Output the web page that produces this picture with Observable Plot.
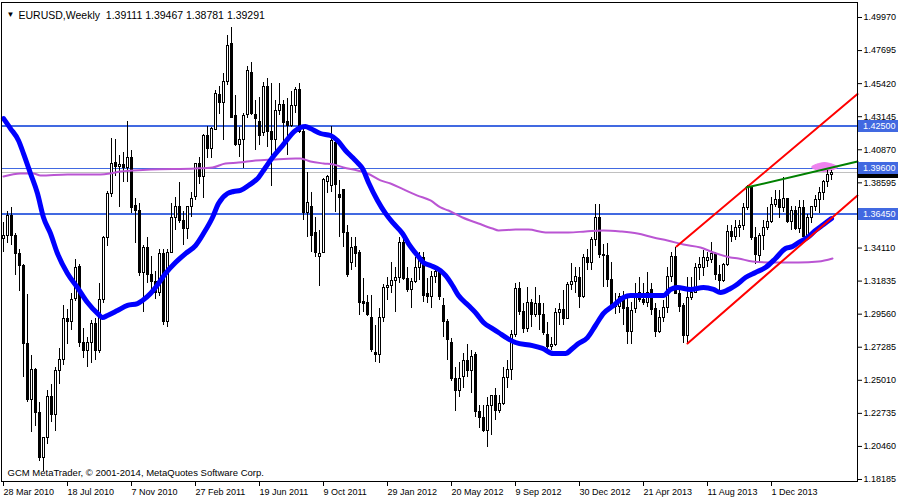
<!DOCTYPE html>
<html><head><meta charset="utf-8">
<script src="https://cdn.jsdelivr.net/npm/d3@7"></script>
<script src="https://cdn.jsdelivr.net/npm/@observablehq/plot@0.6"></script>
<style>
html,body{margin:0;padding:0;background:#fff;}
#chart svg{display:block;}
</style></head><body><div id="chart"></div>
<script>
// Weekly EURUSD candles, bar 0 = week of 28 Mar 2010
const open = [
1.3476,1.3497,1.3630,1.3497,1.3373,1.3285,1.2754,1.2362,1.2575,1.2275,
1.1963,1.2105,1.2383,1.2265,1.2565,1.2640,1.2926,1.2900,1.3060,1.3280,
1.2760,1.2705,1.2760,1.2890,1.2700,1.3050,1.3480,1.3786,1.3993,1.3968,
1.3985,1.3965,1.4030,1.3700,1.3665,1.3240,1.3408,1.3225,1.3180,1.3100,
1.3370,1.2905,1.3380,1.3621,1.3690,1.3600,1.3540,1.3690,1.3759,1.3986,
1.3900,1.4180,1.4090,1.4226,1.4467,1.4412,1.4550,1.4818,1.4320,1.4120,
1.4151,1.4323,1.4612,1.4323,1.4275,1.4200,1.4522,1.4206,1.4151,1.4357,
1.4392,1.4280,1.4250,1.4390,1.4500,1.4210,1.3650,1.3690,1.3511,1.3346,
1.3380,1.3862,1.3841,1.4137,1.3779,1.3807,1.3511,1.3311,1.3421,1.3380,
1.3043,1.3036,1.2933,1.2692,1.2678,1.2933,1.3135,1.3153,1.3181,1.3208,
1.3449,1.3201,1.3119,1.3174,1.3277,1.3345,1.3098,1.3071,1.3215,1.3243,
1.3015,1.2899,1.2761,1.2507,1.2424,1.2525,1.2637,1.2562,1.2678,1.2280,
1.2245,1.2149,1.2321,1.2390,1.2290,1.2335,1.2514,1.2575,1.2816,1.3126,
1.2968,1.2857,1.3036,1.2947,1.3029,1.2947,1.2816,1.2727,1.2745,1.2967,
1.2988,1.2926,1.3160,1.3174,1.3208,1.3071,1.3339,1.3310,1.3463,1.3621,
1.3366,1.3353,1.3188,1.3022,1.3005,1.3077,1.2995,1.2830,1.2990,1.3105,
1.3050,1.3036,1.3119,1.2990,1.2830,1.2930,1.2995,1.3215,1.3346,1.3098,
1.3015,1.2809,1.3070,1.3105,1.3277,1.3277,1.3325,1.3332,1.3373,1.3222,
1.3181,1.3291,1.3518,1.3490,1.3552,1.3560,1.3683,1.3821,1.3483,1.3353,
1.3497,1.3552,1.3587,1.3704,1.3738,1.3683,1.3745,1.3590,1.3669,1.3545,
1.3683,1.3490,1.3620,1.3690,1.3740,1.3793,1.3862,1.39111];
const high = [
1.3587,1.3660,1.3690,1.3510,1.3400,1.3300,1.3090,1.2670,1.2580,1.2348,
1.2110,1.2430,1.2470,1.2590,1.2720,1.3015,1.2990,1.3098,1.3333,1.3300,
1.2860,1.2795,1.2912,1.2926,1.3167,1.3490,1.3800,1.4164,1.4155,1.4050,
1.4068,1.4282,1.4082,1.3750,1.3717,1.3430,1.3480,1.3350,1.3250,1.3400,
1.3400,1.3400,1.3720,1.3760,1.3862,1.3660,1.3700,1.3793,1.3993,1.4034,
1.4190,1.4250,1.4240,1.4495,1.4520,1.4612,1.4873,1.4928,1.4460,1.4240,
1.4336,1.4660,1.4687,1.4426,1.4447,1.4550,1.4577,1.4543,1.4426,1.4543,
1.4426,1.4440,1.4490,1.4515,1.4543,1.4240,1.3931,1.3793,1.3621,1.3532,
1.3890,1.3910,1.4247,1.4151,1.3876,1.3810,1.3566,1.3483,1.3483,1.3394,
1.3201,1.3084,1.3084,1.2878,1.2995,1.3160,1.3208,1.3311,1.3277,1.3483,
1.3483,1.3277,1.3201,1.3346,1.3380,1.3380,1.3201,1.3250,1.3291,1.3260,
1.3064,1.2920,1.2790,1.2589,1.2623,1.2685,1.2747,1.2706,1.2690,1.2328,
1.2328,1.2383,1.2397,1.2445,1.2397,1.2589,1.2637,1.2844,1.3167,1.3174,
1.3029,1.3140,1.3060,1.3140,1.3084,1.3029,1.2899,1.2795,1.2995,1.3029,
1.3119,1.3174,1.3305,1.3277,1.3277,1.3366,1.3404,1.3480,1.3710,1.3710,
1.3435,1.3442,1.3311,1.3098,1.3098,1.3110,1.3064,1.3036,1.3167,1.3208,
1.3167,1.3243,1.3167,1.3029,1.2981,1.3050,1.3277,1.3380,1.3416,1.3119,
1.3029,1.3208,1.3208,1.3305,1.3346,1.3394,1.3380,1.3449,1.3380,1.3291,
1.3305,1.3566,1.3566,1.3600,1.3600,1.3717,1.3841,1.3828,1.3552,1.3511,
1.3600,1.3690,1.3759,1.3807,1.3807,1.3893,1.3752,1.3700,1.3700,1.3740,
1.3740,1.3640,1.3700,1.3770,1.3828,1.3876,1.3944,1.39467];
const low = [
1.3380,1.3440,1.3428,1.3220,1.3115,1.2523,1.2350,1.2143,1.2180,1.1940,
1.1876,1.2060,1.2210,1.2150,1.2470,1.2603,1.2750,1.2844,1.3040,1.2730,
1.2650,1.2587,1.2617,1.2637,1.2685,1.3030,1.3420,1.3759,1.3900,1.3690,
1.3862,1.3860,1.3650,1.3440,1.3218,1.2967,1.3170,1.3120,1.3060,1.3080,
1.2880,1.2861,1.3370,1.3530,1.3580,1.3428,1.3470,1.3621,1.3738,1.3850,
1.3750,1.4030,1.4030,1.4220,1.4330,1.4151,1.4530,1.4300,1.4110,1.4034,
1.3958,1.4300,1.4320,1.4082,1.4116,1.4180,1.4103,1.3837,1.4061,1.4323,
1.4103,1.4050,1.4240,1.4336,1.4199,1.3600,1.3483,1.3380,1.3346,1.3146,
1.3370,1.3786,1.3793,1.3655,1.3483,1.3415,1.3208,1.3256,1.3277,1.2947,
1.2967,1.2940,1.2692,1.2624,1.2617,1.2900,1.3050,1.3098,1.2967,1.3167,
1.3188,1.3105,1.2998,1.3167,1.3188,1.3036,1.3029,1.2995,1.3170,1.3050,
1.2795,1.2637,1.2495,1.2288,1.2383,1.2445,1.2520,1.2410,1.2245,1.2169,
1.2142,1.2042,1.2121,1.2224,1.2273,1.2330,1.2445,1.2500,1.2795,1.2950,
1.2823,1.2830,1.2864,1.2930,1.2844,1.2810,1.2706,1.2706,1.2735,1.2878,
1.2878,1.2920,1.3119,1.3098,1.2995,1.3064,1.3256,1.3256,1.3420,1.3340,
1.3140,1.3140,1.3008,1.2953,1.2960,1.2880,1.2750,1.2745,1.2960,1.3036,
1.3015,1.3000,1.2947,1.2795,1.2823,1.2899,1.2960,1.3174,1.3090,1.2967,
1.2754,1.2754,1.3050,1.3100,1.3188,1.3215,1.3277,1.3304,1.3188,1.3119,
1.3174,1.3285,1.3449,1.3463,1.3483,1.3532,1.3669,1.3463,1.3295,1.3311,
1.3394,1.3532,1.3580,1.3690,1.3614,1.3655,1.3580,1.3532,1.3530,1.3510,
1.3480,1.3475,1.3580,1.3660,1.3648,1.3738,1.3828,1.38781];
const close = [
1.3497,1.3630,1.3497,1.3373,1.3285,1.2754,1.2362,1.2575,1.2275,1.1963,
1.2105,1.2383,1.2265,1.2565,1.2640,1.2926,1.2905,1.3050,1.3275,1.2755,
1.2705,1.2760,1.2890,1.2700,1.3050,1.3483,1.3786,1.3990,1.3968,1.3985,
1.3965,1.4030,1.3683,1.3665,1.3236,1.3408,1.3225,1.3180,1.3100,1.3373,
1.2905,1.3380,1.3621,1.3690,1.3600,1.3540,1.3690,1.3745,1.3986,1.3900,
1.4180,1.4090,1.4233,1.4474,1.4412,1.4550,1.4804,1.4309,1.4120,1.4151,
1.4316,1.4632,1.4336,1.4302,1.4185,1.4522,1.4206,1.4151,1.4357,1.4392,
1.4268,1.4250,1.4390,1.4500,1.4210,1.3650,1.3724,1.3497,1.3380,1.3373,
1.3876,1.3897,1.4144,1.3848,1.3752,1.3511,1.3222,1.3408,1.3373,1.3036,
1.3029,1.2947,1.2706,1.2678,1.2933,1.3135,1.3153,1.3181,1.3208,1.3449,
1.3201,1.3119,1.3174,1.3277,1.3332,1.3084,1.3071,1.3215,1.3243,1.3077,
1.2899,1.2775,1.2507,1.2424,1.2513,1.2637,1.2562,1.2658,1.2280,1.2245,
1.2149,1.2321,1.2390,1.2287,1.2335,1.2514,1.2575,1.2816,1.3126,1.2968,
1.2857,1.3036,1.2947,1.3029,1.2947,1.2823,1.2727,1.2745,1.2967,1.2988,
1.2926,1.3160,1.3174,1.3215,1.3071,1.3339,1.3310,1.3463,1.3621,1.3360,
1.3353,1.3188,1.3022,1.3005,1.3077,1.2990,1.2830,1.2981,1.3098,1.3050,
1.3036,1.3105,1.2988,1.2830,1.2930,1.2995,1.3215,1.3346,1.3098,1.3008,
1.2809,1.3064,1.3105,1.3277,1.3291,1.3339,1.3339,1.3373,1.3222,1.3181,
1.3291,1.3518,1.3490,1.3552,1.3560,1.3683,1.3828,1.3483,1.3360,1.3497,
1.3552,1.3587,1.3704,1.3738,1.3683,1.3745,1.3587,1.3669,1.3545,1.3683,
1.3490,1.3620,1.3690,1.3740,1.3793,1.3862,1.3911,1.39291];

// Moving averages (bar index, price)
const blueBar = [0,1.75,3.75,5,6.75,8.5,10,11.75,13.5,16,18.5,21,23.5,24.75,26,28.5,31,33.5,34.75,36.75,38,40.5,43,45.5,48,50,52.25,53.75,56,57.5,59.25,61.25,63.75,65.5,67.25,69.75,73,75.5,76.75,79.25,81.75,83.5,85.5,87.25,88.5,89.75,91.25,93.5,95.5,97.5,99.75,101.25,103.5,105,106.75,109.25,110.5,112.25,113.75,116.25,118,120,122.25,123.75,126,128,132.25,134.75,137.5,140.5,142.25,143.75,146,148,150,152.5,155,156.75,161,165,166.75,168.5,171.75,175,177.5,179.25,181.75,183,185.5,188,190.5,193,195.5,197.25,198.75,201,203,205,207];
const blueVal = [1.4302,1.4233,1.4151,1.4061,1.3924,1.3786,1.3621,1.3511,1.3373,1.3236,1.3139,1.3036,1.2961,1.2933,1.2947,1.2981,1.3016,1.3029,1.3050,1.3098,1.3139,1.3236,1.3311,1.3373,1.3428,1.3511,1.3621,1.3717,1.3786,1.3800,1.3807,1.3841,1.3896,1.3965,1.4034,1.4116,1.4220,1.4247,1.4233,1.4199,1.4185,1.4151,1.4082,1.4034,1.3999,1.3958,1.3862,1.3738,1.3649,1.3580,1.3511,1.3442,1.3360,1.3311,1.3291,1.3256,1.3222,1.3153,1.3084,1.3016,1.2967,1.2899,1.2857,1.2830,1.2789,1.2761,1.2740,1.2720,1.2685,1.2685,1.2720,1.2754,1.2795,1.2878,1.2961,1.3016,1.3071,1.3084,1.3084,1.3084,1.3126,1.3139,1.3126,1.3139,1.3126,1.3105,1.3133,1.3153,1.3208,1.3243,1.3277,1.3339,1.3408,1.3421,1.3449,1.3483,1.3532,1.3573,1.3614];
const purpleBar = [0,4.25,7.5,9.25,16,24.25,26.75,29.25,32.5,36.75,48,52.25,55.5,58.75,63,67.25,73,74.25,76.75,80,82.5,85,88.5,91,94.25,96.75,100,103.5,106.75,109.25,111.25,114.75,118.75,122.25,123.75,128,131.25,135.5,141.25,145.5,150,154.25,158.5,162.5,166,170,174.25,177.5,181.75,183.75,187.25,193,198.75,203.75,207.25];
const purpleVal = [1.3903,1.3924,1.3924,1.3910,1.3917,1.3917,1.3924,1.3937,1.3944,1.3951,1.3958,1.3965,1.3993,1.3999,1.4013,1.4020,1.4027,1.4027,1.4006,1.3993,1.3986,1.3965,1.3944,1.3924,1.3876,1.3855,1.3814,1.3772,1.3738,1.3690,1.3669,1.3621,1.3580,1.3545,1.3532,1.3538,1.3538,1.3518,1.3518,1.3525,1.3532,1.3525,1.3511,1.3483,1.3463,1.3435,1.3415,1.3380,1.3346,1.3339,1.3318,1.3311,1.3311,1.3318,1.3339];

// Objects
const levels = [1.4250, 1.3960, 1.3645];
const bid = 1.39291;
const upperRedBar = [168.25, 213.5], upperRedVal = [1.3422, 1.4470];
const lowerRedBar = [171, 213.5],    lowerRedVal = [1.2754, 1.3772];
const greenBar = [185.75, 213.5],    greenVal = [1.3827, 1.4006];
const ellBar = [202, 205.25, 208.5, 205.25], ellVal = [1.3968, 1.3999, 1.3968, 1.3937];

// Axis ticks (1.36320 sits under the 1.36450 level label)
const yTicks = [1.49970,1.47695,1.45420,1.43145,1.40870,1.38595,1.34110,1.31835,1.29560,1.27285,1.25010,1.22735,1.20460,1.18185];
const labelBars = [0,16,32,48,64,80,96,112,128,144,160,176,192];
const dateLabels = ["28 Mar 2010","18 Jul 2010","7 Nov 2010","27 Feb 2011","19 Jun 2011","9 Oct 2011","29 Jan 2012","20 May 2012","9 Sep 2012","30 Dec 2012","21 Apr 2013","11 Aug 2013","1 Dec 2013"];
const header = "EURUSD,Weekly  1.39111 1.39467 1.38781 1.39291";
const copyright = "GCM MetaTrader, \u00A9 2001-2014, MetaQuotes Software Corp.";

const bars = open.map((o, i) => ({i, o, h: high[i], l: low[i], c: close[i]}));
const up = bars.filter(d => d.c >= d.o), down = bars.filter(d => d.c < d.o);
const pts = (xs, ys) => xs.map((x, k) => ({x, y: ys[k]}));

const FONT = "'Liberation Sans', Arial, sans-serif";
const crisp = {shapeRendering: "crispEdges"};
const chart = Plot.plot({
  width: 900, height: 500,
  marginTop: 2, marginBottom: 19, marginLeft: 1, marginRight: 43,
  style: {fontFamily: FONT, fontSize: "9px", color: "black", background: "white", overflow: "visible"},
  x: {type: "linear", domain: [-0.5, 213.5], axis: null},
  y: {domain: [1.18047, 1.51002], axis: null},
  marks: [
    Plot.ruleY([bid], {stroke: "#C0C0C0", strokeWidth: 1, ...crisp}),
    Plot.ruleY([levels[0], levels[2]], {stroke: "#4169E1", strokeWidth: 2, ...crisp}),
    Plot.ruleY([levels[1]], {stroke: "#4169E1", strokeWidth: 1, ...crisp}),
    Plot.line(pts(ellBar, ellVal), {x: "x", y: "y", curve: "catmull-rom-closed", fill: "#EE82EE", stroke: "#EE82EE", strokeWidth: 1}),
    Plot.ruleX(bars, {x: "i", y1: "l", y2: "h", stroke: "black", strokeWidth: 1, ...crisp}),
    Plot.rect(up, {x1: d => d.i - 0.25, x2: d => d.i + 0.25, y1: "o", y2: "c", fill: "white", stroke: "black", strokeWidth: 1, ...crisp}),
    Plot.rect(down, {x1: d => d.i - 0.25, x2: d => d.i + 0.25, y1: "o", y2: "c", fill: "black", stroke: "black", strokeWidth: 1, ...crisp}),
    Plot.line(pts(purpleBar, purpleVal), {x: "x", y: "y", stroke: "#BA55D3", strokeWidth: 2, curve: "monotone-x"}),
    Plot.line(pts(blueBar, blueVal), {x: "x", y: "y", stroke: "#0000FF", strokeWidth: 5, curve: "monotone-x", strokeLinejoin: "round"}),
    Plot.line(pts(upperRedBar, upperRedVal), {x: "x", y: "y", stroke: "#FF0000", strokeWidth: 2}),
    Plot.line(pts(lowerRedBar, lowerRedVal), {x: "x", y: "y", stroke: "#FF0000", strokeWidth: 2}),
    Plot.line(pts(greenBar, greenVal), {x: "x", y: "y", stroke: "#008000", strokeWidth: 2}),
    Plot.frame({stroke: "black", ...crisp}),
    Plot.axisY(yTicks, {anchor: "right", tickSize: 4, tickPadding: 2, tickFormat: d => d.toFixed(5), label: null, fontSize: 9}),
    Plot.axisX(labelBars, {anchor: "bottom", tickSize: 5, tickPadding: 2, textAnchor: "start", dx: 0, tickFormat: d => dateLabels[labelBars.indexOf(d)], label: null, fontSize: 9}),
    Plot.text(["\u25BC"], {text: d => d, frameAnchor: "top-left", dx: 5, dy: 9, fontSize: 8, textAnchor: "start"}),
    Plot.text([header], {text: d => d, frameAnchor: "top-left", dx: 17, dy: 9, fontSize: 10.5, textAnchor: "start"}),
    Plot.text([copyright], {text: d => d, frameAnchor: "bottom-left", dx: 6, dy: -6, fontSize: 9.5, textAnchor: "start"})
  ]
});

// Price labels on the right axis (positioned with the chart's y scale)
const yScale = chart.scale("y");
const svg = d3.select(chart);
function priceBox(v, fill, txt) {
  const cy = Math.round(yScale.apply(v));
  const g = svg.append("g");
  g.append("rect").attr("x", 858).attr("y", cy - 6).attr("width", 40).attr("height", 12).attr("fill", fill);
  if (txt) g.append("text").attr("x", 863).attr("y", cy).attr("dy", "0.35em")
    .attr("text-anchor", "start").attr("fill", "white").attr("font-size", 9)
    .attr("font-family", FONT).text(txt);
}
priceBox(bid, "black", null);
levels.forEach(v => priceBox(v, "#4169E1", v.toFixed(5)));

document.getElementById("chart").appendChild(chart);
</script>
</body></html>
